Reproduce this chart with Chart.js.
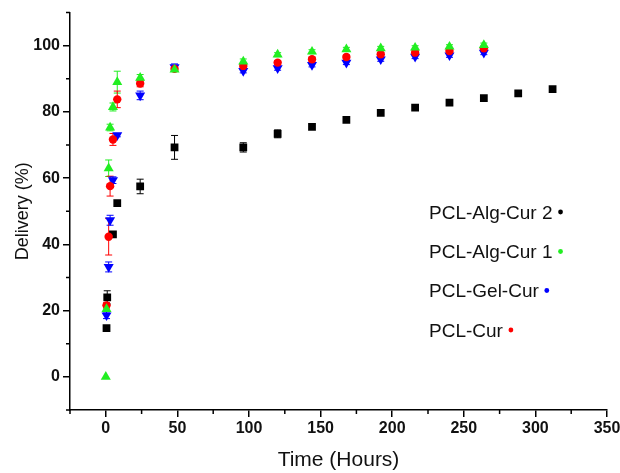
<!DOCTYPE html>
<html>
<head>
<meta charset="utf-8">
<script src="https://cdn.jsdelivr.net/npm/chart.js@4.4.1/dist/chart.umd.min.js"></script>
<style>
  html, body { margin: 0; padding: 0; background: #fff; }
  #wrap { width: 620px; height: 473px; }
</style>
</head>
<body>
<div id="wrap"><canvas id="myChart"></canvas></div>
<script>
// sampling times (hours)
const times = [0, 0.5, 1, 2, 3, 5, 8, 24, 48, 96, 120, 144, 168, 192, 216, 240, 264, 288, 312];

// release (%) per formulation, null = no point
const alg2 = [null, 14.7, 24, null, null, 43, 52.5, 57.5, 69.3, 69.3, 73.4, 75.5, 77.6, 79.7, 81.3, 82.8, 84.2, 85.6, 86.9];
const alg2Err = [0, 0, 2, 0, 0, 0, 0, 2.2, 3.6, 1.4, 1.2, 0, 0, 0, 0, 0, 0, 0, 0];

const alg1 = [0, 20.5, null, 63, 75.3, 81.5, 89, 90.3, 92.8, 95.2, 97.3, 98.2, 98.9, 99.2, 99.4, 99.7, 100.2, null, null];
const alg1Err = [0, 0, 0, 2.5, 1, 1.2, 3.3, 1, 0.6, 0.8, 0.6, 0.6, 0.6, 0.6, 0.6, 0.6, 0.6, 0, 0];

const gel = [null, 18.6, null, 33.2, 47.3, 59.4, 73, 85, 93.5, 92.4, 93.2, 94.2, 94.9, 95.9, 96.7, 97.1, 97.9, null, null];
const gelErr = [0, 1, 0, 1.5, 1.5, 1, 0.5, 1.3, 1, 0.6, 0.6, 0.6, 0.6, 0.6, 0.6, 0.6, 0.6, 0, 0];

const cur = [null, 21.6, null, 42.3, 57.6, 71.7, 83.8, 88.6, 93, 93.9, 94.9, 95.9, 96.6, 97.4, 97.9, 98.4, 99.2, null, null];
const curErr = [0, 0.8, 0, 5.5, 3, 1.8, 2.5, 1, 0.6, 0.6, 0.6, 0.6, 0.6, 0.6, 0.6, 0.6, 0.6, 0, 0];

const seriesNames = ["PCL-Alg-Cur 2", "PCL-Alg-Cur 1", "PCL-Gel-Cur", "PCL-Cur"];
const seriesColors = ["#000000", "#22ee22", "#0000ff", "#ff0000"];

const FONT = '"Liberation Sans", Arial, sans-serif';

function toPoints(vals, errs) {
	return times
		.map((t, i) => ({x: t, y: vals[i], err: errs[i]}))
		.filter(p => p.y !== null);
}

// vertical error bars with caps, drawn under the markers
const errorBars = {
	id: 'errorBars',
	beforeDatasetsDraw(chart) {
		const ctx = chart.ctx;
		const xs = chart.scales.x, ys = chart.scales.y;
		chart.data.datasets.forEach((ds) => {
			ctx.save();
			ctx.strokeStyle = ds.borderColor;
			ctx.lineWidth = 1;
			ds.data.forEach(p => {
				if (!p.err) return;
				const px = xs.getPixelForValue(p.x);
				const top = ys.getPixelForValue(p.y + p.err);
				const bot = ys.getPixelForValue(p.y - p.err);
				ctx.beginPath();
				ctx.moveTo(px, top); ctx.lineTo(px, bot);
				ctx.moveTo(px - 3.5, top); ctx.lineTo(px + 3.5, top);
				ctx.moveTo(px - 3.5, bot); ctx.lineTo(px + 3.5, bot);
				ctx.stroke();
			});
			ctx.restore();
		});
	}
};

// short minor ticks (major ones come from the grid)
const minorTicks = {
	id: 'minorTicks',
	afterDraw(chart) {
		const ctx = chart.ctx;
		const xs = chart.scales.x, ys = chart.scales.y;
		ctx.save();
		ctx.strokeStyle = '#000';
		ctx.lineWidth = 1.5;
		ctx.beginPath();
		xs.ticks.forEach(t => {
			if (t.value % 50 === 0) return;
			const px = xs.getPixelForValue(t.value);
			ctx.moveTo(px, xs.top); ctx.lineTo(px, xs.top + 4);
		});
		ys.ticks.forEach(t => {
			if (t.value % 20 === 0 && t.value >= 0 && t.value <= 100) return;
			const py = ys.getPixelForValue(t.value);
			ctx.moveTo(ys.right, py); ctx.lineTo(ys.right - 4, py);
		});
		ctx.stroke();
		ctx.restore();
	}
};

// text legend with a small dot after each name
const dotLegend = {
	id: 'dotLegend',
	afterDraw(chart) {
		const ctx = chart.ctx;
		ctx.save();
		ctx.font = '19px ' + FONT;
		ctx.textBaseline = 'alphabetic';
		ctx.textAlign = 'left';
		const baselines = [218.5, 258, 297, 336.5];
		seriesNames.forEach((name, i) => {
			ctx.fillStyle = '#111';
			ctx.fillText(name, 429, baselines[i]);
			const w = ctx.measureText(name).width;
			ctx.beginPath();
			ctx.fillStyle = seriesColors[i];
			ctx.arc(429 + w + 8, baselines[i] - 6.5, 2.4, 0, Math.PI * 2);
			ctx.fill();
		});
		ctx.restore();
	}
};

const isMajorX = v => v >= 0 && v % 50 === 0;
const isMajorY = v => v >= 0 && v <= 100 && v % 20 === 0;

const ctx = document.getElementById('myChart').getContext('2d');

new Chart(ctx, {
	type: 'scatter',
	data: {
		datasets: [
			{
				label: seriesNames[1], data: toPoints(alg1, alg1Err), order: 0,
				pointStyle: 'triangle', pointRadius: 5.8, pointHoverRadius: 5.8,
				backgroundColor: seriesColors[1], borderColor: seriesColors[1], borderWidth: 0
			},
			{
				label: seriesNames[3], data: toPoints(cur, curErr), order: 1,
				pointStyle: 'circle', pointRadius: 4.2, pointHoverRadius: 4.2,
				backgroundColor: seriesColors[3], borderColor: seriesColors[3], borderWidth: 0
			},
			{
				label: seriesNames[2], data: toPoints(gel, gelErr), order: 2,
				pointStyle: 'triangle', rotation: 180, pointRadius: 5.8, pointHoverRadius: 5.8,
				backgroundColor: seriesColors[2], borderColor: seriesColors[2], borderWidth: 0
			},
			{
				label: seriesNames[0], data: toPoints(alg2, alg2Err), order: 3,
				pointStyle: 'rect', pointRadius: 5.5, pointHoverRadius: 5.5,
				backgroundColor: seriesColors[0], borderColor: seriesColors[0], borderWidth: 0
			}
		]
	},
	options: {
		responsive: true,
		maintainAspectRatio: false,
		animation: false,
		layout: {padding: {left: 0, top: 12, right: 13, bottom: 0}},
		plugins: {
			legend: {display: false},
			tooltip: {enabled: false}
		},
		scales: {
			x: {
				type: 'linear',
				min: -25,
				max: 350,
				afterFit: s => { s.height = 63; s.paddingRight = 0; },
				border: {color: '#000', width: 1.5},
				grid: {
					drawOnChartArea: false, drawTicks: true, tickLength: 7, lineWidth: 1.5,
					tickColor: c => isMajorX(c.tick.value) ? '#000' : 'rgba(0,0,0,0)'
				},
				ticks: {
					stepSize: 25,
					autoSkip: false,
					maxRotation: 0,
					padding: 2,
					color: '#111',
					font: {family: FONT, size: 16, weight: 'bold'},
					callback: v => isMajorX(v) ? v : ''
				},
				title: {
					display: true,
					text: 'Time (Hours)',
					color: '#111',
					font: {family: FONT, size: 21},
					padding: {top: 0, bottom: 0}
				}
			},
			y: {
				type: 'linear',
				min: -10,
				max: 110,
				afterFit: s => { s.width = 70; },
				border: {color: '#000', width: 1.5},
				grid: {
					drawOnChartArea: false, drawTicks: true, tickLength: 7, lineWidth: 1.5,
					tickColor: c => isMajorY(c.tick.value) ? '#000' : 'rgba(0,0,0,0)'
				},
				ticks: {
					stepSize: 10,
					autoSkip: false,
					padding: 3,
					color: '#111',
					font: {family: FONT, size: 16, weight: 'bold'},
					callback: v => isMajorY(v) ? v : ''
				},
				title: {
					display: true,
					text: 'Delivery (%)',
					color: '#111',
					font: {family: FONT, size: 18},
					padding: {top: 12, bottom: 0}
				}
			}
		}
	},
	plugins: [errorBars, minorTicks, dotLegend]
});
</script>
</body>
</html>
